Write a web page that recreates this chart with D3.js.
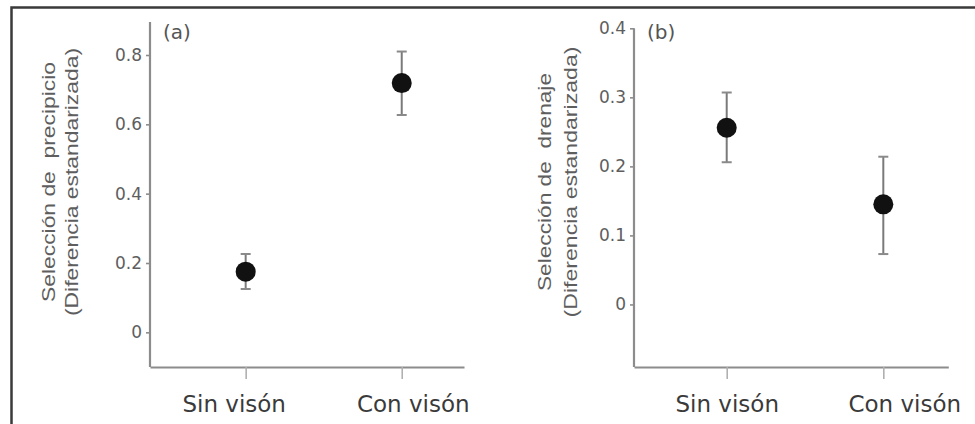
<!DOCTYPE html>
<html>
<head>
<meta charset="utf-8">
<script src="https://cdn.jsdelivr.net/npm/d3@7"></script>
<style>
  html, body { margin: 0; padding: 0; background: #fff; }
  svg { display: block; }
</style>
</head>
<body>
<svg id="chart" width="975" height="424"></svg>
<script>
// Treatment groups shared by both panels
const categories = ["Sin visón", "Con visón"];

// Panel (a): cliff selection — mean and error-bar limits
const precipicioMean = [0.175, 0.719];
const precipicioLow  = [0.125, 0.627];
const precipicioHigh = [0.226, 0.810];
const precipicioTicks = [0, 0.2, 0.4, 0.6, 0.8];

// Panel (b): drainage selection — mean and error-bar limits
const drenajeMean = [0.256, 0.145];
const drenajeLow  = [0.206, 0.073];
const drenajeHigh = [0.307, 0.214];
const drenajeTicks = [0, 0.1, 0.2, 0.3, 0.4];

const svg = d3.select("#chart");

// Outer frame (top and left edges visible)
svg.append("path")
  .attr("d", "M11.5,424 V7.5 H975")
  .attr("fill", "none")
  .attr("stroke", "#3a3a3a")
  .attr("stroke-width", 2.5);

const axisColor = "#8c8c8c";
const tickColor = "#5e5e5e";

function panel(cfg) {
  const g = svg.append("g");

  const y = d3.scaleLinear().domain(cfg.yDomain).range(cfg.yRange);
  const x = d3.scaleLinear().domain(cfg.xDomain).range(cfg.xRange);

  // y axis
  const yAxis = g.append("g")
    .attr("transform", `translate(${cfg.xRange[0]},0)`)
    .call(d3.axisLeft(y)
      .tickValues(cfg.ticks)
      .tickFormat(d => d === 0 ? "0" : d3.format(".1f")(d))
      .tickSize(4)
      .tickSizeOuter(0)
      .tickPadding(4));
  yAxis.select(".domain")
    .attr("d", `M0,${cfg.yRange[0]}V${cfg.yTop}`)
    .attr("stroke", axisColor).attr("stroke-width", 2.2);
  yAxis.selectAll(".tick line").attr("stroke", axisColor).attr("stroke-width", 1.6);
  yAxis.selectAll(".tick text")
    .attr("fill", tickColor)
    .style("font-family", "'DejaVu Sans', sans-serif")
    .style("font-size", "17px");

  // x axis
  const xAxis = g.append("g")
    .attr("transform", `translate(0,${cfg.yRange[0]})`)
    .call(d3.axisBottom(x)
      .tickValues(d3.range(categories.length))
      .tickFormat(i => categories[i])
      .tickSize(12)
      .tickSizeOuter(0));
  xAxis.select(".domain").attr("stroke", axisColor).attr("stroke-width", 2.2);
  xAxis.selectAll(".tick line").attr("stroke", "#b0b0b0").attr("stroke-width", 1.6);
  xAxis.selectAll(".tick text")
    .attr("y", 45)
    .attr("dy", 0)
    .attr("dx", (d, i) => cfg.labelShift[i])
    .attr("fill", "#3a3a3a")
    .style("font-family", "'DejaVu Sans', sans-serif")
    .style("font-size", "23px");

  // Y-axis title (two lines, rotated and stretched along the axis)
  const cy = 182;
  [[cfg.title1, cfg.title1Len, cfg.labelX1], ["(Diferencia estandarizada)", cfg.title2Len, cfg.labelX2]]
    .forEach(([txt, len, lx]) => {
      g.append("text")
        .attr("transform", `translate(${lx},${cy}) rotate(-90)`)
        .attr("text-anchor", "middle")
        .attr("textLength", len)
        .attr("lengthAdjust", "spacingAndGlyphs")
        .attr("fill", "#5e5e5e")
        .style("white-space", "pre")
        .style("font-family", "'Liberation Sans', Arial, sans-serif")
        .style("font-size", "18.5px")
        .text(txt);
    });

  // Panel letter
  g.append("text")
    .attr("x", cfg.xRange[0] + 13)
    .attr("y", 39)
    .attr("fill", "#555")
    .style("font-family", "'DejaVu Sans', sans-serif")
    .style("font-size", "20px")
    .text(cfg.letter);

  // Error bars
  const eb = g.append("g");
  cfg.mean.forEach((m, i) => {
    const cx = x(i);
    eb.append("line")
      .attr("x1", cx).attr("x2", cx)
      .attr("y1", y(cfg.low[i])).attr("y2", y(cfg.high[i]))
      .attr("stroke", "#7a7a7a").attr("stroke-width", 2);
    [cfg.low[i], cfg.high[i]].forEach(v => {
      eb.append("line")
        .attr("x1", cx - 5).attr("x2", cx + 5)
        .attr("y1", y(v)).attr("y2", y(v))
        .attr("stroke", "#8a8a8a").attr("stroke-width", 2);
    });
  });

  // Means
  g.append("g").selectAll("circle")
    .data(cfg.mean)
    .join("circle")
    .attr("cx", (d, i) => x(i))
    .attr("cy", d => y(d))
    .attr("r", 10)
    .attr("fill", "#111");
}

panel({
  letter: "(a)",
  title1: "Selección de  precipicio",
  title1Len: 240, title2Len: 268,
  labelX1: 55, labelX2: 78,
  labelShift: [-12, 11],
  yDomain: [-0.1, 0.8],
  yRange: [367, 55],
  yTop: 22,
  xDomain: [-0.613, 1.399],
  xRange: [150, 464],
  ticks: precipicioTicks,
  mean: precipicioMean, low: precipicioLow, high: precipicioHigh
});

panel({
  letter: "(b)",
  title1: "Selección de  drenaje",
  title1Len: 218, title2Len: 271,
  labelX1: 551, labelX2: 577,
  labelShift: [0, 21],
  yDomain: [-0.0906, 0.4],
  yRange: [367, 28.3],
  yTop: 28.3,
  xDomain: [-0.592, 1.415],
  xRange: [634, 948.3],
  ticks: drenajeTicks,
  mean: drenajeMean, low: drenajeLow, high: drenajeHigh
});
</script>
</body>
</html>
